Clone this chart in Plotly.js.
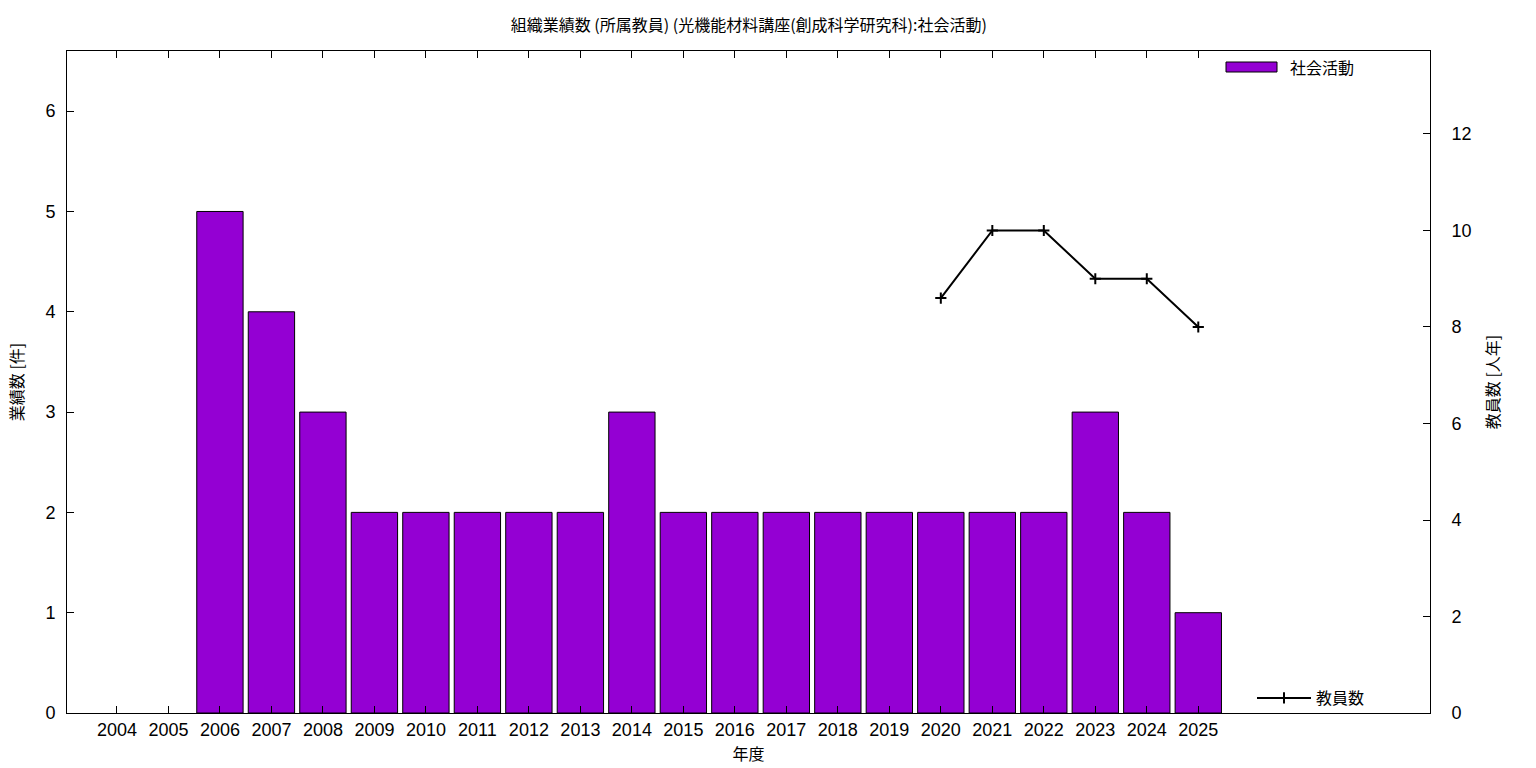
<!DOCTYPE html>
<html>
<head>
<meta charset="utf-8">
<script src="https://cdn.plot.ly/plotly-3.0.1.min.js"></script>
<style>html,body{margin:0;padding:0;background:#fff;}#chart{width:1536px;height:768px;}</style>
</head>
<body>
<div id="chart"></div>
<script>
const years = [2004,2005,2006,2007,2008,2009,2010,2011,2012,2013,2014,2015,2016,2017,2018,2019,2020,2021,2022,2023,2024,2025];
const activities = [0,0,5,4,3,2,2,2,2,2,3,2,2,2,2,2,2,2,2,3,2,1];
const staffYears = [2020,2021,2022,2023,2024,2025];
const staffCount = [8.6,10,10,9,9,8];
const yTicks = [0,1,2,3,4,5,6];
const y2Ticks = [0,2,4,6,8,10,12];

const FONT = "Liberation Sans, Arial, 'Noto Sans CJK JP', sans-serif";
const CJK = "'Noto Sans CJK JP', sans-serif";
const BAR = '#9400D3';

const L = 67, R = 1430, T = 51, B = 713;
const px2x = p => (p - L) / (R - L);
const py2y = p => (B - p) / (B - T);

const traces = [
  {
    type: 'bar', x: years, y: activities, name: '社会活動', width: 0.9,
    marker: {color: BAR, line: {color: '#000', width: activities.map(v => v > 0 ? 1 : 0)}},
    showlegend: false, hoverinfo: 'x+y'
  },
  {
    type: 'scatter', mode: 'lines+markers', x: staffYears, y: staffCount, name: '教員数',
    yaxis: 'y2', line: {color: '#000', width: 2},
    marker: {symbol: 'cross-thin', size: 8, line: {color: '#000', width: 2}},
    legend: 'legend2'
  }
];

const layout = {
  width: 1536, height: 768,
  margin: {l: 67, r: 106, t: 51, b: 55},
  paper_bgcolor: '#fff', plot_bgcolor: '#fff',
  font: {family: FONT, size: 18, color: '#000'},
  title: {text: '組織業績数 (所属教員) (光機能材料講座(創成科学研究科):社会活動)', x: 0.4875, xanchor: 'center', y: 0.967, yanchor: 'middle', font: {family: CJK, size: 16, color: '#000'}},
  bargap: 0,
  xaxis: {
    range: [2003.03, 2029.5], tickvals: years, ticktext: years.map(String),
    ticks: 'inside', ticklen: 7, tickcolor: '#000', tickwidth: 1,
    showline: true, linecolor: '#000', linewidth: 1, mirror: 'ticks',
    showgrid: false, zeroline: false,
    title: {text: '年度', font: {family: CJK, size: 16}, standoff: 10}
  },
  yaxis: {
    range: [0, 6.6], tickvals: yTicks,
    ticks: 'inside', ticklen: 7, tickcolor: '#000', tickwidth: 1,
    showline: true, linecolor: '#000', linewidth: 1, mirror: true,
    showgrid: false, zeroline: false, ticklabelstandoff: 7,
    title: {text: '業績数 [件]', font: {family: CJK, size: 16}, standoff: 17}
  },
  yaxis2: {
    overlaying: 'y', side: 'right', range: [0, 13.72], tickvals: y2Ticks,
    ticks: 'inside', ticklen: 7, tickcolor: '#000', tickwidth: 1,
    showline: true, linecolor: '#000', linewidth: 1,
    showgrid: false, zeroline: false, ticklabelstandoff: 17,
    title: {text: '教員数 [人年]', font: {family: CJK, size: 16}, standoff: 17}
  },
  legend2: {
    x: px2x(1252), y: py2y(698), xanchor: 'left', yanchor: 'middle',
    bgcolor: 'rgba(0,0,0,0)', font: {family: CJK, size: 16}, itemwidth: 54
  },
  showlegend: true,
  shapes: [
    {type: 'rect', xref: 'paper', yref: 'paper', x0: px2x(1226), x1: px2x(1277), y0: py2y(72), y1: py2y(62),
     fillcolor: BAR, line: {color: '#000', width: 1}}
  ],
  annotations: [
    {xref: 'paper', yref: 'paper', x: px2x(1288), y: py2y(67), xanchor: 'left', yanchor: 'middle',
     text: traces[0].name, showarrow: false, font: {family: CJK, size: 16, color: '#000'}}
  ]
};

Plotly.newPlot('chart', traces, layout, {displayModeBar: false, staticPlot: true});
</script>
</body>
</html>
